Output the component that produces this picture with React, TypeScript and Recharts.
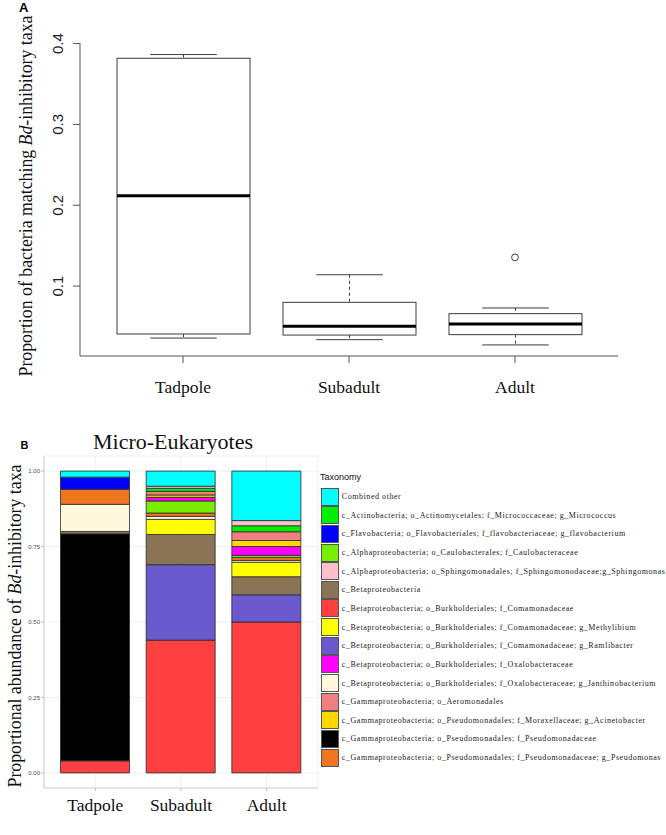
import React from "react";
import { ComposedChart, BarChart, Bar, XAxis, YAxis, Scatter, CartesianGrid } from "recharts";

// ---------- Panel A data ----------
const stages = ["Tadpole", "Subadult", "Adult"];
const whiskerLow = [0.0357, 0.0337, 0.0272];
const quartile1 = [0.0407, 0.0394, 0.0399];
const medians = [0.2117, 0.0502, 0.053];
const quartile3 = [0.3818, 0.0799, 0.0659];
const whiskerHigh = [0.3864, 0.114, 0.0729];
const outliers: (number | null)[] = [null, null, 0.1355];
const boxTicks = [0.1, 0.2, 0.3, 0.4];

// ---------- Panel B data ----------
const taxonomy = [
  "Combined other",
  "c_Actinobacteria; o_Actinomycetales; f_Micrococcaceae; g_Micrococcus",
  "c_Flavobacteria; o_Flavobacteriales; f_flavobacteriaceae; g_flavobacterium",
  "c_Alphaproteobacteria; o_Caulobacterales; f_Caulobacteraceae",
  "c_Alphaproteobacteria; o_Sphingomonadales; f_Sphingomonodaceae;g_Sphingomonas",
  "c_Betaproteobacteria",
  "c_Betaproteobacteria; o_Burkholderiales; f_Comamonadaceae",
  "c_Betaproteobacteria; o_Burkholderiales; f_Comamonadaceae; g_Methylibium",
  "c_Betaproteobacteria; o_Burkholderiales; f_Comamonadaceae; g_Ramlibacter",
  "c_Betaproteobacteria; o_Burkholderiales; f_Oxalobacteraceae",
  "c_Betaproteobacteria; o_Burkholderiales; f_Oxalobacteraceae; g_Janthinobacterium",
  "c_Gammaproteobacteria; o_Aeromonadales",
  "c_Gammaproteobacteria; o_Pseudomonadales; f_Moraxellaceae; g_Acinetobacter",
  "c_Gammaproteobacteria; o_Pseudomonadales; f_Pseudomonadaceae",
  "c_Gammaproteobacteria; o_Pseudomonadales; f_Pseudomonadaceae; g_Pseudomonas",
];
const taxonomyColors = [
  "#00FFFF", "#00EE00", "#0000FF", "#76EE00", "#FFC0CB",
  "#8B7355", "#FF4040", "#FFFF00", "#6A5ACD", "#FF00FF",
  "#FFF8DC", "#F08080", "#FFD700", "#000000", "#EE7621",
];
// values per stage: Tadpole, Subadult, Adult
const combinedOther = [0.02, 0.05, 0.164];
const actinobacteria = [0, 0.01, 0.02];
const flavobacterium = [0.04, 0, 0];
const caulobacteraceae = [0, 0.04, 0.007];
const sphingomonas = [0, 0.007, 0.017];
const betaproteobacteria = [0.008, 0.1, 0.06];
const comamonadaceae = [0.04, 0.44, 0.5];
const methylibium = [0, 0.05, 0.048];
const ramlibacter = [0, 0.25, 0.09];
const oxalobacteraceae = [0, 0.012, 0.029];
const janthinobacterium = [0.09, 0.01, 0.006];
const aeromonadales = [0, 0.012, 0.029];
const acinetobacter = [0, 0.008, 0.02];
const pseudomonadaceae = [0.752, 0, 0];
const pseudomonas = [0.05, 0.011, 0.01];
const abundanceTicks = [0, 0.25, 0.5, 0.75, 1];
const abundanceTickLabels = ["0.00", "0.25", "0.50", "0.75", "1.00"];
const abundanceMinor = [0.125, 0.375, 0.625, 0.875];

const taxonomySeries = [
  combinedOther, actinobacteria, flavobacterium, caulobacteraceae, sphingomonas,
  betaproteobacteria, comamonadaceae, methylibium, ramlibacter, oxalobacteraceae,
  janthinobacterium, aeromonadales, acinetobacter, pseudomonadaceae, pseudomonas,
];
// stacking order, bottom to top (indices into taxonomy)
const stackOrder = [6, 13, 8, 5, 7, 10, 14, 3, 9, 12, 11, 1, 2, 4, 0];

const boxRows = stages.map((s, i) => ({
  stage: s,
  range: [whiskerLow[i], whiskerHigh[i]],
  low: whiskerLow[i],
  q1: quartile1[i],
  median: medians[i],
  q3: quartile3[i],
  high: whiskerHigh[i],
  outlier: outliers[i],
}));

const barRows = stages.map((s, i) => {
  const row: any = { stage: s };
  taxonomySeries.forEach((arr, k) => {
    row["t" + k] = arr[i];
  });
  return row;
});

const SERIF = "'Liberation Serif', 'Times New Roman', serif";
const SANS = "'Liberation Sans', Arial, sans-serif";
const LINE = "#3c3c3c";

const BoxShape = (props: any) => {
  const { x, y, width, height, payload } = props;
  if (!payload || x == null || y == null) return null;
  const top = Math.min(y, y + height);
  const bottom = Math.max(y, y + height);
  const span = payload.high - payload.low;
  const k = span > 0 ? (bottom - top) / span : 0;
  const py = (v: number) => top + (payload.high - v) * k;
  const cx = x + width / 2;
  const cap = width / 4;
  return (
    <g>
      <line x1={cx} x2={cx} y1={py(payload.high)} y2={py(payload.q3)} stroke={LINE} strokeWidth={1} strokeDasharray="3 3" />
      <line x1={cx} x2={cx} y1={py(payload.q1)} y2={py(payload.low)} stroke={LINE} strokeWidth={1} strokeDasharray="3 3" />
      <line x1={cx - cap} x2={cx + cap} y1={py(payload.high)} y2={py(payload.high)} stroke={LINE} strokeWidth={1} />
      <line x1={cx - cap} x2={cx + cap} y1={py(payload.low)} y2={py(payload.low)} stroke={LINE} strokeWidth={1} />
      <rect x={x} y={py(payload.q3)} width={width} height={py(payload.q1) - py(payload.q3)} fill="#fff" stroke={LINE} strokeWidth={1} />
      <line x1={x} x2={x + width} y1={py(payload.median)} y2={py(payload.median)} stroke="#000" strokeWidth={3} />
    </g>
  );
};

const OutlierShape = (props: any) => {
  const { cx, cy, payload } = props;
  if (!payload || payload.outlier == null || cx == null || cy == null || isNaN(cy)) return <g />;
  return <circle cx={cx} cy={cy} r={3.4} fill="none" stroke={LINE} strokeWidth={1} />;
};

const YTickA = (props: any) => {
  const { x, y, payload } = props;
  return (
    <text x={x} y={y} transform={`rotate(-90, ${x}, ${y})`} textAnchor="middle" fontFamily={SANS} fontSize={15} fill="#222">
      {String(payload.value)}
    </text>
  );
};

const XTickA = (props: any) => {
  const { x, y, payload } = props;
  return (
    <text x={x} y={y} dy={28} textAnchor="middle" fontFamily={SERIF} fontSize={17.5} fill="#111">
      {payload.value}
    </text>
  );
};

const YTickB = (props: any) => {
  const { x, y, payload } = props;
  const idx = abundanceTicks.indexOf(payload.value);
  return (
    <text x={x} y={y} dy={2.1} textAnchor="end" fontFamily={SANS} fontSize={6} fill="#4d4d4d">
      {idx >= 0 ? abundanceTickLabels[idx] : String(payload.value)}
    </text>
  );
};

const XTickB = (props: any) => {
  const { x, y, payload } = props;
  return (
    <text x={x} y={y} dy={18} textAnchor="middle" fontFamily={SERIF} fontSize={17.5} fill="#111">
      {payload.value}
    </text>
  );
};

const minorGen = (args: any) => {
  const yAxis = args && args.yAxis;
  if (!yAxis || typeof yAxis.scale !== "function") return [];
  return abundanceMinor.map((v) => yAxis.scale(v));
};

export default function App() {
  return (
    <div style={{ position: "absolute", left: 0, top: 0, width: 666, height: 835, background: "#fff", overflow: "hidden" }}>
      <div style={{ position: "absolute", left: 0, top: 0 }}>
        <ComposedChart width={666} height={420} data={boxRows} margin={{ top: 43, right: 48, bottom: 34, left: 50 }}>
          <XAxis
            xAxisId="bx"
            dataKey="stage"
            height={30}
            padding={{ left: 20, right: 20 }}
            interval={0}
            tickSize={7}
            tickMargin={2}
            axisLine={{ stroke: "#555", strokeWidth: 1 }}
            tickLine={{ stroke: "#555", strokeWidth: 1 }}
            tick={<XTickA />}
          />
          <XAxis xAxisId="tx" orientation="top" dataKey="stage" height={0} tick={false} tickLine={false} axisLine={{ stroke: "#555", strokeWidth: 1 }} />
          <YAxis
            yAxisId="ly"
            type="number"
            width={30}
            domain={[0.0135, 0.4007]}
            allowDataOverflow
            ticks={boxTicks}
            tickSize={7}
            tickMargin={10}
            axisLine={{ stroke: "#555", strokeWidth: 1 }}
            tickLine={{ stroke: "#555", strokeWidth: 1 }}
            tick={<YTickA />}
          />
          <YAxis yAxisId="ry" orientation="right" type="number" width={0} domain={[0, 1]} tick={false} tickLine={false} axisLine={{ stroke: "#555", strokeWidth: 1 }} />
          <Bar xAxisId="bx" yAxisId="ly" dataKey="range" barSize={133} shape={<BoxShape />} isAnimationActive={false} />
          <Scatter xAxisId="bx" yAxisId="ly" dataKey="outlier" shape={<OutlierShape />} isAnimationActive={false} />
        </ComposedChart>
      </div>

      <div style={{ position: "absolute", left: 0, top: 420 }}>
        <BarChart width={666} height={415} data={barRows} margin={{ top: 36, right: 348, bottom: 17, left: 24 }}>
          <CartesianGrid xAxisId="bx" yAxisId="ly" horizontal={false} vertical={false} horizontalCoordinatesGenerator={minorGen} stroke="#f3f3f3" strokeWidth={0.5} />
          <CartesianGrid xAxisId="bx" yAxisId="ly" stroke="#ebebeb" strokeWidth={0.8} />
          <XAxis
            xAxisId="bx"
            dataKey="stage"
            height={30}
            padding={{ left: 8.5, right: 8.5 }}
            interval={0}
            tickSize={3}
            tickMargin={2}
            axisLine={{ stroke: "#cfcfcf", strokeWidth: 1 }}
            tickLine={{ stroke: "#b3b3b3", strokeWidth: 0.8 }}
            tick={<XTickB />}
          />
          <XAxis xAxisId="tx" orientation="top" dataKey="stage" height={0} tick={false} tickLine={false} axisLine={{ stroke: "#cfcfcf", strokeWidth: 1 }} />
          <YAxis
            yAxisId="ly"
            type="number"
            width={20}
            domain={[-0.05, 1.05]}
            allowDataOverflow
            ticks={abundanceTicks}
            tickSize={3}
            tickMargin={1}
            axisLine={{ stroke: "#cfcfcf", strokeWidth: 1 }}
            tickLine={{ stroke: "#b3b3b3", strokeWidth: 0.8 }}
            tick={<YTickB />}
          />
          <YAxis yAxisId="ry" orientation="right" type="number" width={0} domain={[0, 1]} tick={false} tickLine={false} axisLine={{ stroke: "#cfcfcf", strokeWidth: 1 }} />
          {stackOrder.map((k) => (
            <Bar
              key={"t" + k}
              xAxisId="bx"
              yAxisId="ly"
              dataKey={"t" + k}
              stackId="a"
              barSize={69}
              fill={taxonomyColors[k]}
              stroke="#2a2a2a"
              strokeWidth={0.8}
              isAnimationActive={false}
            />
          ))}
        </BarChart>
      </div>

      {/* Legend */}
      <div style={{ position: "absolute", left: 320, top: 472, fontFamily: SANS, fontSize: 9, color: "#111" }}>Taxonomy</div>
      <div style={{ position: "absolute", left: 320.5, top: 487.3 }}>
        {taxonomy.map((name, i) => (
          <div key={name} style={{ display: "flex", alignItems: "center", height: 18.65 }}>
            <div style={{ width: 18.3, height: 18, boxSizing: "border-box", border: "0.8px solid #555", background: taxonomyColors[i] }} />
            <div style={{ marginLeft: 3, fontFamily: SERIF, fontSize: 8, letterSpacing: 0.55, whiteSpace: "nowrap", color: "#222" }}>{name}</div>
          </div>
        ))}
      </div>

      {/* Titles and axis labels */}
      <svg width={666} height={835} style={{ position: "absolute", left: 0, top: 0, pointerEvents: "none" }}>
        <text x={19} y={12} fontFamily={SANS} fontWeight="bold" fontSize={13} fill="#000">A</text>
        <text x={32} y={196} transform="rotate(-90, 32, 196)" textAnchor="middle" fontFamily={SERIF} fontSize={17.8} fill="#111">
          <tspan>Proportion of bacteria matching </tspan>
          <tspan fontStyle="italic">Bd</tspan>
          <tspan>-inhibitory taxa</tspan>
        </text>
        <text x={20.5} y={449} fontFamily={SANS} fontWeight="bold" fontSize={11} fill="#000">B</text>
        <text x={173} y={449} textAnchor="middle" fontFamily={SERIF} fontSize={22} fill="#111">Micro-Eukaryotes</text>
        <text x={21} y={626} transform="rotate(-90, 21, 626)" textAnchor="middle" fontFamily={SERIF} fontSize={17.8} fill="#111">
          <tspan>Proportional abundance of </tspan>
          <tspan fontStyle="italic">Bd</tspan>
          <tspan>-inhibitory taxa</tspan>
        </text>
      </svg>
    </div>
  );
}
